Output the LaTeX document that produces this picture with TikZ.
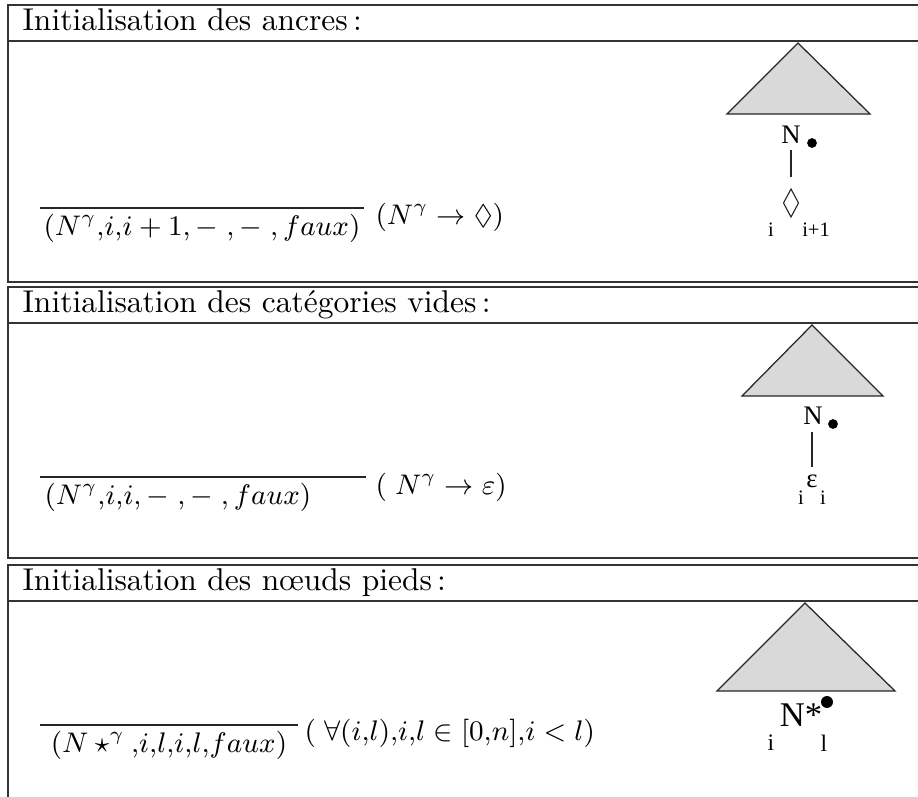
\documentclass[tikz,border=0pt]{standalone}
\usepackage{amssymb}
\usepackage{fontspec}
\newfontfamily\treefont{Liberation Serif}
\usetikzlibrary{positioning}

\begin{document}
\begin{tikzpicture}[x=0.3175pt,y=-0.3175pt,
    cadre/.style={draw=black!80,line width=0.45pt},
    titre/.style={anchor=base west,inner sep=0pt},
    formule/.style={inner sep=0pt,font=\fontsize{9}{10}\selectfont},
    barre/.style={draw=black!85,line width=0.35pt},
    arbre/.style={draw=black!85,fill=black!15,line width=0.4pt},
    lettre/.style={font=\treefont\fontsize{8.5}{9}\selectfont,inner sep=0pt},
    indice/.style={font=\treefont\fontsize{6.5}{7}\selectfont,inner sep=0pt},
    point/.style={circle,fill=black,inner sep=0pt,minimum size=3.1pt},
    tige/.style={draw=black!85,line width=0.35pt}]
  \clip (0,0) rectangle (918,796);

  % les trois cadres
  \foreach \haut/\sep/\bas in {5/41/282, 287/323/558, 565/601/830} {
    \draw[cadre] (8,\haut) rectangle (940,\bas);
    \draw[cadre] (8,\sep) -- (940,\sep);
  }

  \node[titre] (t1) at (22,30) {Initialisation des ancres\,:};
  \node[titre] (t2) at (22,312) {Initialisation des catégories vides\,:};
  \node[titre] (t3) at (22,590) {Initialisation des nœuds pieds\,:};

  % regle des ancres
  \coordinate (g1) at (40,208);
  \coordinate (h1) at (364,208);
  \coordinate (m1) at (202,208);
  \draw[barre] (g1) -- (h1);
  \node[formule,below=1.8pt of m1] (d1) {$(N^\gamma{,}i{,}i+1,-\;,-\;,faux)$};
  \node[formule,anchor=west] (r1) at (375,217) {$(N^\gamma\rightarrow\Diamond)$};

  % arbre des ancres
  \draw[arbre] (798,43) -- (727,114) -- (870,114) -- cycle;
  \node[lettre] (n1) at (791,135) {N};
  \node[point] (p1) at (812,143) {};
  \coordinate (l1) at (791,203);
  \draw[tige] (l1) ++(0,-14) -- ++(7.5,14) -- ++(-7.5,14) -- ++(-7.5,-14) -- cycle;
  \draw[tige,shorten <=1.9pt,shorten >=8.3pt] (n1.south) -- (l1);
  \node[indice] (i1) at (771,230) {i};
  \node[indice] (j1) at (816,230) {i+1};

  % regle des categories vides
  \coordinate (g2) at (40,477);
  \coordinate (h2) at (366,477);
  \draw[barre] (g2) -- (h2);
  \node[formule,anchor=north west] (d2) at (44,483) {$(N^\gamma{,}i{,}i,-\;,-\;,faux)$};
  \node[formule,anchor=west] (r2) at (375,487) {$(\;N^\gamma\rightarrow\varepsilon)$};

  % arbre des categories vides
  \draw[arbre] (812,325) -- (742,396) -- (883,396) -- cycle;
  \node[lettre] (n2) at (813,416) {N};
  \node[point] (p2) at (833,424) {};
  \node[lettre] (e2) at (812,481) {ε};
  \draw[tige,shorten <=2.0pt,shorten >=2.2pt] (n2.south -| e2) -- (e2.north);
  \node[indice] (i2) at (801,498) {i};
  \node[indice] (j2) at (823,498) {i};

  % regle des noeuds pieds
  \coordinate (g3) at (40,725);
  \coordinate (h3) at (298,725);
  \coordinate (m3) at (169,725);
  \draw[barre] (g3) -- (h3);
  \node[formule,below=1.8pt of m3] (d3) {$(N\star^\gamma{,}i{,}l{,}i{,}l{,}faux)$};
  \node[formule,anchor=west] (r3) at (304,733) {$(\;\forall(i{,}l){,}i{,}l\in[0{,}n]{,}i<l)$};

  % arbre des noeuds pieds
  \draw[arbre] (805,603) -- (717,691) -- (895,691) -- cycle;
  \node[lettre,font=\treefont\fontsize{11}{12}\selectfont] (n3) at (801,715) {N*};
  \node[point,minimum size=3.8pt] (p3) at (827,702) {};
  \node[indice,font=\treefont\fontsize{7.5}{8}\selectfont] (i3) at (771,743) {i};
  \node[indice,font=\treefont\fontsize{7.5}{8}\selectfont] (j3) at (824,743) {l};
\end{tikzpicture}
\end{document}
